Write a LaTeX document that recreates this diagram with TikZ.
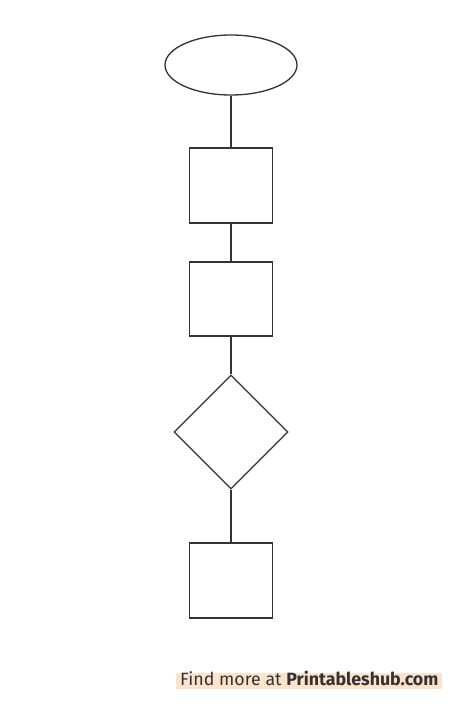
\documentclass[tikz,border=0pt]{standalone}
\usepackage{fontspec}
\setsansfont{Fira Sans}
\usetikzlibrary{shapes.geometric}
\definecolor{ink}{HTML}{333333}
\definecolor{peach}{HTML}{FBE3CC}
\begin{document}
\begin{tikzpicture}[x=1pt,y=-1pt,
  shape line/.style={draw=ink,line width=1.3pt,fill=white},
  conn/.style={draw=ink,line width=1.3pt}]
\useasboundingbox (0,0) rectangle (474,715);
\fill[white] (0,0) rectangle (474,715);
\node[shape line,ellipse,minimum width=132pt,minimum height=60pt,inner sep=0pt] (start) at (231,65) {};
\node[shape line,rectangle,minimum width=83.5pt,minimum height=75pt,inner sep=0pt] (box1) at (231,185.5) {};
\node[shape line,rectangle,minimum width=83.5pt,minimum height=74pt,inner sep=0pt] (box2) at (231,299) {};
\node[shape line,diamond,minimum width=114pt,minimum height=114pt,inner sep=0pt] (dec) at (231,432) {};
\node[shape line,rectangle,minimum width=83.5pt,minimum height=75pt,inner sep=0pt] (box3) at (231,580.5) {};
\draw[conn] (start) -- (box1);
\draw[conn] (box1) -- (box2);
\draw[conn] (box2) -- (dec);
\draw[conn] (dec) -- (box3);
\node[fill=peach,text=ink,font=\sffamily\fontsize{17.8}{19}\selectfont,inner xsep=4pt,inner ysep=0pt,text height=13pt,text depth=3pt,anchor=west] (credit) at (176,680.5) {Find more at \textbf{Printableshub.com}};
\end{tikzpicture}
\end{document}
